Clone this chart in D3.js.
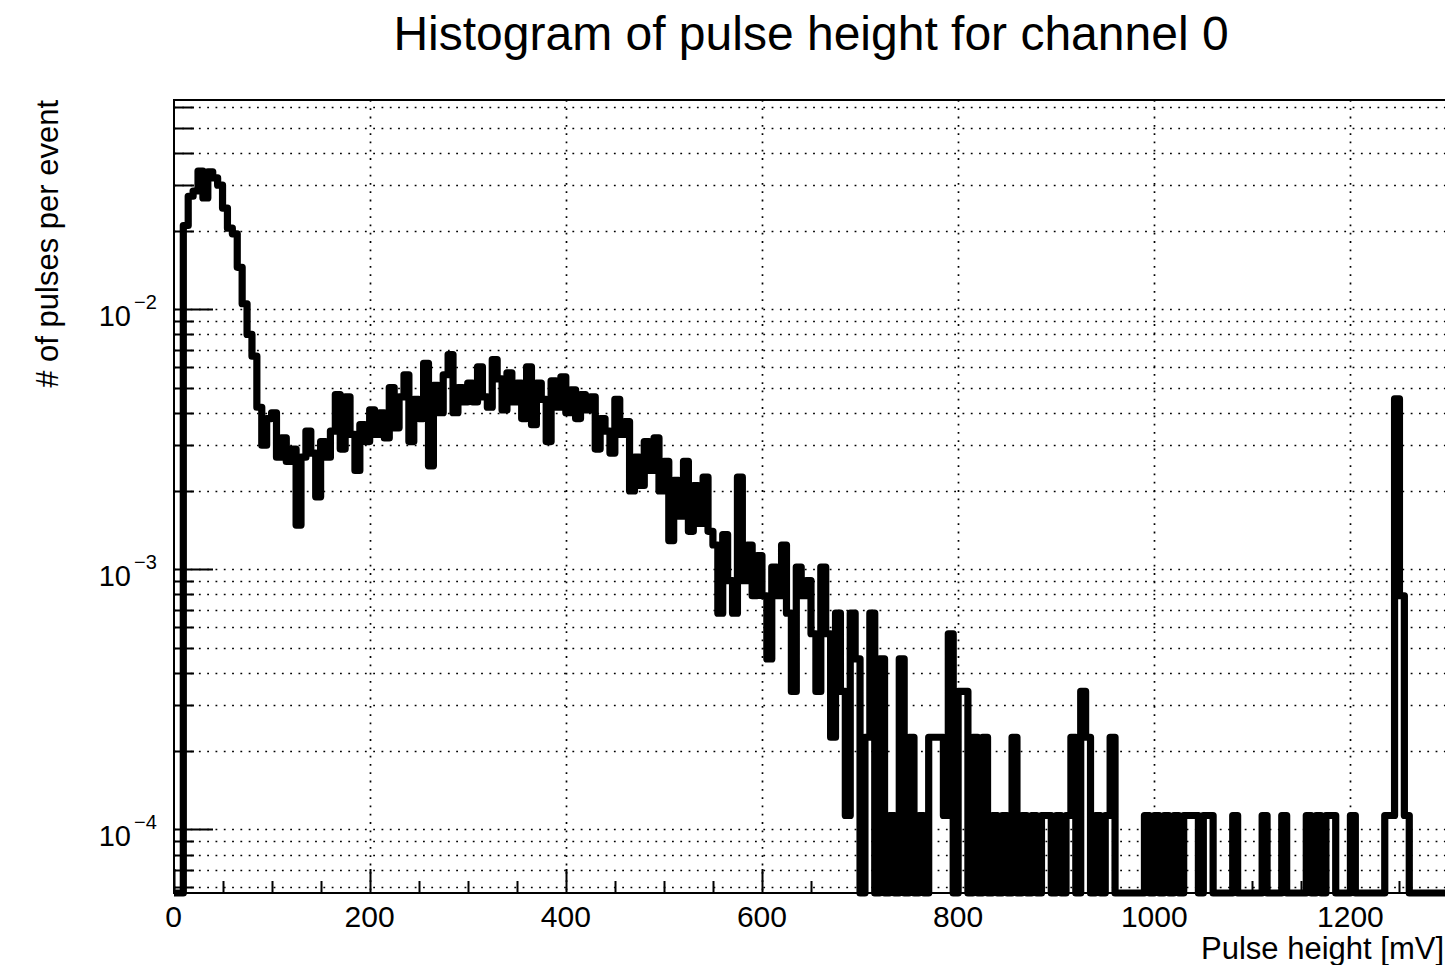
<!DOCTYPE html>
<html>
<head>
<meta charset="utf-8">
<script src="https://cdn.jsdelivr.net/npm/d3@7"></script>
<style>
  html, body { margin: 0; padding: 0; background: #fff; }
  svg { display: block; }
  text { font-family: "Liberation Sans", Arial, Helvetica, sans-serif; fill: #000; }
</style>
</head>
<body>
<script>
// ---- chart text ----
const chartTitle = "Histogram of pulse height for channel 0";
const xAxisTitle = "Pulse height [mV]";
const yAxisTitle = "# of pulses per event";

// ---- binning: 260 bins of 5 mV covering 0–1300 mV ----
const binWidthMV = 5;
const xRangeMV = [0, 1300];

// pulses per event in each bin, in units of 1e-4 (one pulse ≈ 1.13e-4 per event)
const pulsesPerEventE4 = [
  0, 0, 210, 272, 285, 340, 268, 338, 320, 300, 245, 205, 195, 145, 105, 80, 66, 42, 30, 38,
  40, 27, 32, 26, 29, 14.8, 27, 34, 28, 19, 31, 27, 34, 47, 29, 46, 33, 24, 36, 31,
  41, 33, 40, 32, 50, 35, 46, 56, 31, 45, 38, 62, 25, 51, 40, 56, 67, 40, 50, 44,
  52, 44, 60, 46, 42, 64, 54, 41, 57, 44, 52, 38, 60, 36, 52, 45, 31, 53, 42, 55,
  40, 49, 38, 47, 41, 46, 29, 38, 34, 28, 45, 33, 37, 20, 27, 21, 31, 24, 32, 20,
  26, 12.9, 22, 16, 26, 14, 21, 15, 22.6, 14, 12.4, 6.78, 13.6, 9.04, 6.78, 22.6, 9.04, 12.4, 7.91, 11.3,
  7.91, 4.52, 10.2, 7.91, 12.4, 6.78, 3.39, 10.2, 7.91, 9.04, 5.65, 3.39, 10.2, 5.65, 2.26, 6.78, 3.39, 1.13, 6.78, 4.52,
  0, 2.26, 6.78, 0, 4.52, 0, 1.13, 0, 4.52, 0, 2.26, 0, 1.13, 0, 2.26, 2.26, 2.26, 1.13, 5.65, 0,
  3.39, 3.39, 0, 2.26, 0, 2.26, 0, 1.13, 0, 1.13, 0, 2.26, 0, 1.13, 0, 1.13, 0, 1.13, 1.13, 0,
  1.13, 0, 1.13, 2.26, 0, 3.39, 2.26, 0, 1.13, 0, 1.13, 2.26, 0, 0, 0, 0, 0, 0, 1.13, 0,
  1.13, 0, 1.13, 0, 1.13, 0, 1.13, 1.13, 1.13, 0, 1.13, 1.13, 0, 0, 0, 0, 1.13, 0, 0, 0,
  0, 0, 1.13, 0, 0, 0, 1.13, 0, 0, 0, 0, 1.13, 0, 1.13, 0, 1.13, 1.13, 0, 0, 0,
  1.13, 0, 0, 0, 0, 0, 0, 1.13, 1.13, 45.2, 7.91, 1.13, 0, 0, 0, 0, 0, 0, 0, 0
];

// ---- axis ticks ----
const xMajorTicks = [0, 200, 400, 600, 800, 1000, 1200];
const xMinorStepMV = 50;
const yDecadeExponents = [-4, -3, -2];
const yMinorFactors = [2, 3, 4, 5, 6, 7, 8, 9];
const yDomain = [5.69e-5, 0.0638];

// ---- layout ----
const W = 1445, H = 965;
const frame = { left: 174, top: 100, bottom: 893, right: 1449 };

const svg = d3.select("body").append("svg")
  .attr("width", W).attr("height", H)
  .attr("viewBox", `0 0 ${W} ${H}`);

svg.append("rect").attr("width", W).attr("height", H).attr("fill", "#fff");

const x = d3.scaleLinear().domain(xRangeMV).range([173.5, 1448.5]);
const y = d3.scaleLog().domain(yDomain).range([frame.bottom, frame.top]);

// y grid/tick positions: decades plus the 2..9 multiples inside the domain
const yMajor = yDecadeExponents.map(e => Math.pow(10, e));
const yMinor = [];
for (let e = -5; e <= -1; e++) {
  for (const f of yMinorFactors) {
    const v = f * Math.pow(10, e);
    if (v >= yDomain[0] && v <= yDomain[1]) yMinor.push(v);
  }
}
const xMinor = d3.range(xRangeMV[0], xRangeMV[1] + 1, xMinorStepMV)
  .filter(v => !xMajorTicks.includes(v));

// ---- dotted grid ----
const grid = svg.append("g")
  .attr("stroke", "#000")
  .attr("stroke-width", 1.7)
  .attr("stroke-dasharray", "1.8,6.5")
  .attr("fill", "none");

grid.selectAll("line.gy")
  .data(yMajor.concat(yMinor))
  .join("line")
  .attr("x1", frame.left).attr("x2", W)
  .attr("y1", d => Math.round(y(d)) + 0.5)
  .attr("y2", d => Math.round(y(d)) + 0.5);

grid.selectAll("line.gx")
  .data(xMajorTicks.filter(v => v > 0))
  .join("line")
  .attr("x1", d => Math.round(x(d)) + 0.5)
  .attr("x2", d => Math.round(x(d)) + 0.5)
  .attr("y1", frame.top).attr("y2", frame.bottom);

// ---- histogram outline ----
svg.append("defs").append("clipPath").attr("id", "plotClip")
  .append("rect")
  .attr("x", frame.left).attr("y", frame.top)
  .attr("width", frame.right - frame.left)
  .attr("height", frame.bottom - frame.top + 4);

const yLevel = v => (v > 0 ? y(Math.max(v * 1e-4, yDomain[0])) : frame.bottom);

const p = d3.path();
pulsesPerEventE4.forEach((v, i) => {
  const x0 = x(i * binWidthMV);
  const x1 = x((i + 1) * binWidthMV);
  const yy = yLevel(v);
  if (i === 0) p.moveTo(x0, yy); else p.lineTo(x0, yy);
  p.lineTo(x1, yy);
});

svg.append("path")
  .attr("d", p.toString())
  .attr("clip-path", "url(#plotClip)")
  .attr("fill", "none")
  .attr("stroke", "#000")
  .attr("stroke-width", 7.2)
  .attr("stroke-linejoin", "round")
  .attr("stroke-linecap", "butt");

// ---- frame ----
svg.append("path")
  .attr("d", `M${frame.right},${frame.top} H${frame.left} V${frame.bottom} H${frame.right}`)
  .attr("stroke", "#000").attr("stroke-width", 2).attr("fill", "none");

// ---- ticks (drawn inward) ----
const ticks = svg.append("g").attr("stroke", "#000").attr("stroke-width", 2);

ticks.selectAll("line.ymaj").data(yMajor).join("line")
  .attr("x1", frame.left).attr("x2", frame.left + 39)
  .attr("y1", d => Math.round(y(d)) + 0.5).attr("y2", d => Math.round(y(d)) + 0.5);

ticks.selectAll("line.ymin").data(yMinor).join("line")
  .attr("x1", frame.left).attr("x2", frame.left + 20)
  .attr("y1", d => Math.round(y(d)) + 0.5).attr("y2", d => Math.round(y(d)) + 0.5);

ticks.selectAll("line.xmaj").data(xMajorTicks).join("line")
  .attr("x1", d => Math.round(x(d)) + 0.5).attr("x2", d => Math.round(x(d)) + 0.5)
  .attr("y1", frame.bottom).attr("y2", frame.bottom - 24);

ticks.selectAll("line.xmin").data(xMinor).join("line")
  .attr("x1", d => Math.round(x(d)) + 0.5).attr("x2", d => Math.round(x(d)) + 0.5)
  .attr("y1", frame.bottom).attr("y2", frame.bottom - 12);

// ---- tick labels ----
svg.append("g").selectAll("text").data(xMajorTicks).join("text")
  .attr("x", d => x(d))
  .attr("y", 927)
  .attr("text-anchor", "middle")
  .attr("font-size", 30)
  .text(d => d3.format("d")(d));

const yLab = svg.append("g");
yDecadeExponents.forEach(e => {
  const yy = y(Math.pow(10, e));
  yLab.append("text")
    .attr("x", 131).attr("y", yy + 17)
    .attr("text-anchor", "end")
    .attr("font-size", 29)
    .text("10");
  yLab.append("text")
    .attr("x", 134).attr("y", yy)
    .attr("text-anchor", "start")
    .attr("font-size", 20)
    .text("\u2212" + Math.abs(e));
});

// ---- titles ----
svg.append("text")
  .attr("x", 811).attr("y", 50)
  .attr("text-anchor", "middle")
  .attr("font-size", 48)
  .text(chartTitle);

svg.append("text")
  .attr("x", 1444).attr("y", 959)
  .attr("text-anchor", "end")
  .attr("font-size", 31)
  .text(xAxisTitle);

svg.append("text")
  .attr("transform", "translate(58,100) rotate(-90)")
  .attr("text-anchor", "end")
  .attr("font-size", 31)
  .text(yAxisTitle);
</script>
</body>
</html>
